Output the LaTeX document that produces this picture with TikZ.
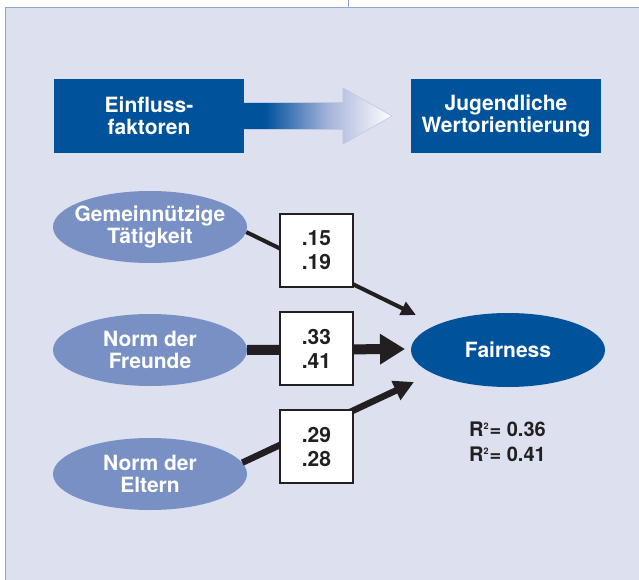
\documentclass[tikz,border=0pt]{standalone}
\usepackage{fontspec}
\setmainfont{TeX Gyre Heros}
\usetikzlibrary{shapes.geometric,arrows.meta}
\definecolor{dkblue}{HTML}{00529B}
\definecolor{ltblue}{HTML}{7890C4}
\definecolor{panel}{HTML}{DCE0EF}
\definecolor{rulec}{HTML}{8FA5D8}
\definecolor{ink}{HTML}{231F20}
\definecolor{midgrad}{HTML}{A7B4DA}
\definecolor{arrline}{HTML}{BFC8E2}
\newcommand{\sqsup}{\raisebox{6.5pt}{\fontsize{9}{9}\selectfont 2}}
\begin{document}
\begin{tikzpicture}[x=1pt,y=-1pt,
  every node/.style={font=\fontsize{21}{21.5}\selectfont\bfseries, align=center},
  darkbox/.style={fill=dkblue,text=white,minimum width=190pt,minimum height=74pt,inner sep=0pt},
  lightell/.style={ellipse,fill=ltblue,text=white,minimum width=194pt,minimum height=72pt,inner xsep=-10pt,inner ysep=0pt},
  fairell/.style={lightell,fill=dkblue,minimum height=74pt},
  numbox/.style={draw=ink,line width=1.6pt,fill=white,text=ink,minimum width=73pt,minimum height=73pt,inner sep=0pt,font=\fontsize{21}{24}\selectfont\bfseries},
  pathA/.style={draw=ink,line width=4pt,-{Triangle[length=15pt,width=14pt]}},
  pathB/.style={draw=ink,line width=10pt,-{Triangle[length=25pt,width=29pt]}},
  pathC/.style={draw=ink,line width=6.5pt,-{Triangle[length=20pt,width=20pt]}},
  rtext/.style={anchor=base west,text=ink,inner sep=0pt,font=\fontsize{20}{20}\selectfont\bfseries}
]
\useasboundingbox (0,0) rectangle (639,580);
\fill[white] (0,0) rectangle (639,580);
\fill[panel] (5,7) rectangle (639,580);
\draw[rulec,line width=0.8pt] (5,580) -- (5,7) -- (639,7);
\draw[rulec,line width=0.8pt] (348,0) -- (348,7);

\node[darkbox] (einf) at (149,116) {Einfluss-\\faktoren};
\node[darkbox] (jug) at (506,116) {Jugendliche\\Wertorientierung};

% gradient arrow
\fill[dkblue] (244,102.5) rectangle (266,129.5);
\shade[left color=dkblue,right color=white,middle color=midgrad]
  (265,102.5) -- (343,102.5) -- (343,88) -- (392,116) -- (343,144) -- (343,129.5) -- (265,129.5) -- cycle;
\draw[arrline,line width=0.6pt]
  (244,102.5) -- (343,102.5) -- (343,88) -- (392,116) -- (343,144) -- (343,129.5) -- (244,129.5);

\node[lightell] (gem) at (150,227) {Gemeinnützige\\Tätigkeit};
\node[lightell] (fre) at (150,350) {Norm der\\Freunde};
\node[lightell] (elt) at (150,474) {Norm der\\Eltern};
\node[fairell] (fair) at (508,350) {Fairness};

\coordinate (t1) at (416,315);
\coordinate (t2) at (405,349);
\coordinate (t3) at (414,382);
\draw[pathA] (gem.-3) -- (t1);
\draw[pathB] (fre.east) -- (t2);
\draw[pathC] (elt.7) -- (t3);

\node[numbox] (b1) at (316.5,250.5) {.15\\.19};
\node[numbox] (b2) at (316.5,348.5) {.33\\.41};
\node[numbox] (b3) at (316.5,446.5) {.29\\.28};

\node[rtext] (r2a) at (469,436) {R\sqsup\kern1pt= 0.36};
\node[rtext] (r2b) at (469,461) {R\sqsup\kern1pt= 0.41};
\end{tikzpicture}
\end{document}
